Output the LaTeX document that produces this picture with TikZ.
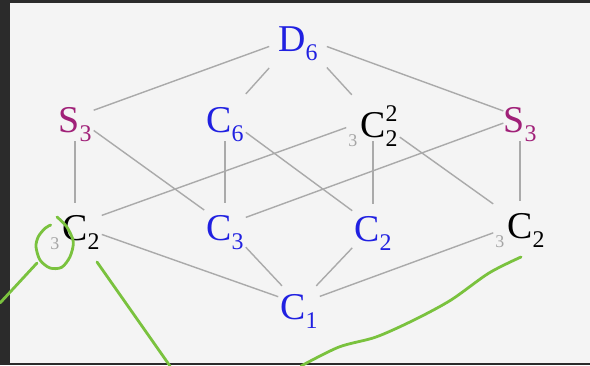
\documentclass[tikz,border=0pt]{standalone}
\usepackage{fontspec}
\setmainfont{Liberation Serif}
\definecolor{bgcol}{RGB}{244,244,244}
\definecolor{darkframe}{RGB}{43,43,43}
\definecolor{blueg}{RGB}{32,32,225}
\definecolor{magg}{RGB}{160,32,120}
\definecolor{edgegray}{RGB}{170,170,170}
\definecolor{gthree}{RGB}{165,165,165}
\definecolor{anngreen}{RGB}{122,194,62}
\newcommand\sbs[1]{\raisebox{-9bp}{\fontsize{24}{24}\selectfont #1}}
\newcommand\sps[1]{\raisebox{16bp}{\fontsize{24}{24}\selectfont #1}}
\newcommand\thr{\raisebox{-9bp}{\fontsize{18}{18}\selectfont\color{gthree}3}\hspace{3bp}}
\begin{document}
\begin{tikzpicture}[x=1bp,y=-1bp,
  grp/.style={rectangle, inner xsep=2bp, inner ysep=7bp, text height=30bp, text depth=0bp,
    font=\fontsize{38}{44}\selectfont},
  edge/.style={draw=edgegray, line width=1.4bp},
  anno/.style={draw=anngreen, line width=2.8bp, line cap=round, line join=round}]
\useasboundingbox (0,0) rectangle (590,365);
\fill[bgcol] (0,0) rectangle (590,365);
\fill[darkframe] (0,0) rectangle (10,365);
\fill[darkframe] (0,0) rectangle (590,3);
\fill[darkframe] (0,363) rectangle (590,365);

\node[grp, text=blueg, inner xsep=9bp, inner ysep=17bp] (d6) at (298,36) {D\sbs{6}};
\node[grp, text=magg, inner ysep=9bp] (s3a) at (75,117) {S\sbs{3}};
\node[grp, text=blueg, inner ysep=9bp] (c6) at (225,117) {C\sbs{6}};
\node[grp, text height=38bp, inner ysep=4bp] (c22) at (373,118) {\thr C\rlap{\sps{2}}\sbs{2}};
\node[grp, text=magg, inner ysep=9bp, inner xsep=0bp] (s3b) at (520,117) {S\sbs{3}};
\node[grp] (c2a) at (75,225) {\thr C\sbs{2}};
\node[grp, text=blueg] (c3) at (225,225) {C\sbs{3}};
\node[grp, text=blueg] (c2b) at (373,226) {C\sbs{2}};
\node[grp] (c2c) at (520,223) {\thr C\sbs{2}};
\node[grp, text=blueg, inner ysep=3bp] (c1) at (299,304) {C\sbs{1}};

\draw[edge] (d6) -- (s3a);
\draw[edge] (d6) -- (c6);
\draw[edge] (d6) -- (c22);
\draw[edge] (d6) -- (s3b);
\draw[edge] (s3a) -- (c2a);
\draw[edge] (s3a) -- (c3);
\draw[edge] (c6) -- (c3);
\draw[edge] (c6) -- (c2b);
\draw[edge] (c22) -- (c2a);
\draw[edge] (c22) -- (c2b);
\draw[edge] (c22) -- (c2c);
\draw[edge] (s3b) -- (c3);
\draw[edge] (s3b) -- (c2c);
\draw[edge] (c2a) -- (c1);
\draw[edge] (c3) -- (c1);
\draw[edge] (c2b) -- (c1);
\draw[edge] (c2c) -- (c1);

% hand-drawn annotations
\draw[anno] plot[smooth] coordinates {(57,217) (66.7,226.7) (73.3,241.7) (70,256.7) (61.7,267.3) (50,268) (40,260) (36,246.7) (38.3,236.7) (45,228.3) (50.7,225)};
\draw[anno] (37,263) -- (0,303);
\draw[anno] (97,262) -- (170,366);
\draw[anno] plot[smooth] coordinates {(521,257) (489,273) (451,300) (414,320) (376,337) (339,347) (301,366)};
\end{tikzpicture}
\end{document}
